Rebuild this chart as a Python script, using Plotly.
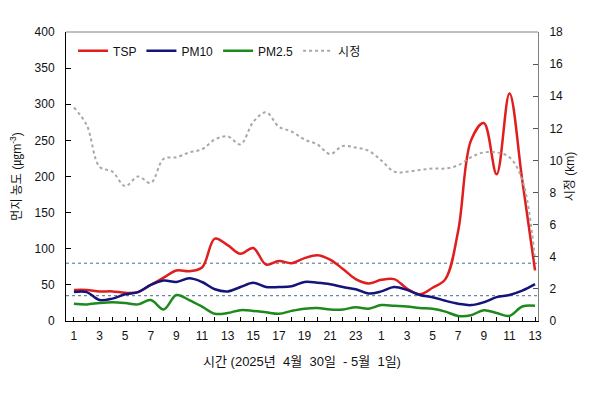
import plotly.graph_objects as go

# hours: 1..24 on 4/30, then 1..13 on 5/1
hours = list(range(1, 25)) + list(range(1, 14))
x_idx = list(range(len(hours)))

tsp = [43, 43, 41, 41, 39, 40, 50, 60, 70, 69, 74, 114, 105, 93, 101, 78, 83, 80, 87, 91,
       85, 72, 58, 52, 57, 58, 45, 37, 46, 58, 125, 250, 274, 203, 315, 195, 70]
pm10 = [40, 40, 29, 31, 37, 40, 50, 56, 54, 59, 54, 44, 41, 47, 53, 47, 47, 48, 54, 53,
        51, 47, 44, 38, 41, 47, 43, 36, 33, 28, 24, 22, 26, 33, 36, 42, 51]
pm25 = [24, 23, 25, 26, 25, 23, 29, 16, 36, 29, 20, 10, 11, 15, 14, 12, 10, 14, 17, 18,
        16, 16, 19, 17, 22, 21, 20, 18, 17, 13, 7, 8, 15, 11, 7, 20, 21]
visibility = [13.3, 12.2, 9.6, 9.3, 8.4, 9.0, 8.6, 10.1, 10.2, 10.5, 10.7, 11.3, 11.5, 11.0,
              12.4, 13.0, 12.1, 11.8, 11.3, 11.0, 10.4, 10.9, 10.8, 10.6, 10.0, 9.3, 9.3, 9.4,
              9.5, 9.5, 9.7, 10.2, 10.5, 10.5, 10.2, 8.8, 3.8]
ref_levels = [80, 35]

tick_idx = x_idx[::2]
tick_text = [str(h) for h in hours[::2]]

FONT = "Liberation Sans, Noto Sans CJK KR, sans-serif"

fig = go.Figure()
fig.add_trace(go.Scatter(x=x_idx, y=tsp, name="TSP", mode="lines",
                         line=dict(color="#e01e1e", width=2.5, shape="spline")))
fig.add_trace(go.Scatter(x=x_idx, y=pm10, name="PM10", mode="lines",
                         line=dict(color="#14147a", width=2.5, shape="spline")))
fig.add_trace(go.Scatter(x=x_idx, y=pm25, name="PM2.5", mode="lines",
                         line=dict(color="#1e8a1e", width=2.5, shape="spline")))
fig.add_trace(go.Scatter(x=x_idx, y=visibility, name="시정", mode="lines", yaxis="y2",
                         line=dict(color="#a8a8a8", width=2, dash="dot", shape="spline")))

for lv in ref_levels:
    fig.add_shape(type="line", xref="paper", x0=0, x1=1, yref="y", y0=lv, y1=lv,
                  line=dict(color="#4a6a8a", width=1, dash="dot"), layer="below")

# top frame line
fig.add_shape(type="line", xref="paper", yref="paper", x0=0, x1=1, y0=1, y1=1,
              line=dict(color="#808080", width=1))

fig.update_layout(
    width=590, height=394,
    margin=dict(l=58, r=60, t=24, b=81, autoexpand=False),
    paper_bgcolor="white", plot_bgcolor="white",
    font=dict(family=FONT, size=12, color="#111111"),
    showlegend=True,
    legend=dict(orientation="h", x=0.015, y=0.985, xanchor="left", yanchor="top",
                bgcolor="rgba(0,0,0,0)", font=dict(size=12), itemwidth=30,
                tracegroupgap=0),
    xaxis=dict(range=[-0.62, 36.23], tickmode="array", tickvals=tick_idx, ticktext=tick_text,
               ticks="inside", ticklen=4, tickcolor="#000", showline=True, linecolor="#000",
               linewidth=1, showgrid=False, zeroline=False, automargin=False,
               minor=dict(dtick=1, tick0=0, ticks="inside", ticklen=4, tickcolor="#000"),
               title=dict(text="시간 (2025년  4월  30일  - 5월  1일)", standoff=14,
                          font=dict(size=13)),
               ticklabelstandoff=4),
    yaxis=dict(range=[0, 400], dtick=50, ticks="inside", ticklen=5, tickcolor="#000",
               showline=True, linecolor="#000", linewidth=1, showgrid=False, zeroline=False,
               automargin=False,
               title=dict(text="먼지 농도 (㎍m<sup>-3</sup>)", standoff=12, font=dict(size=12)),
               ticklabelstandoff=8),
    yaxis2=dict(range=[0, 18], dtick=2, overlaying="y", side="right", ticks="inside",
                ticklen=5, tickcolor="#555", showline=True, linecolor="#808080", linewidth=1,
                showgrid=False, zeroline=False, automargin=False,
                title=dict(text="시정 (km)", standoff=2, font=dict(size=12)),
                ticklabelstandoff=8),
)

fig.write_html("out.html")
